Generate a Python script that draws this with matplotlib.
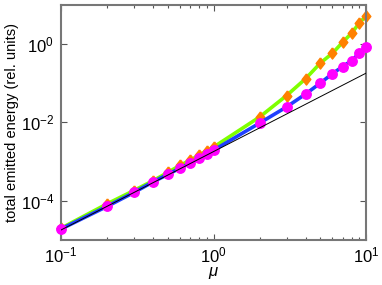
from matplotlib import pyplot as plt
from matplotlib.ticker import LogLocator, NullLocator
import numpy as np

plt.rcParams['font.family'] = ['Liberation Sans', 'DejaVu Sans']
plt.rcParams['mathtext.fontset'] = 'custom'
plt.rcParams['mathtext.it'] = 'Liberation Sans:italic'
plt.rcParams['mathtext.rm'] = 'Liberation Sans'

mu = [0.1, 0.2, 0.3, 0.4, 0.5, 0.6, 0.7, 0.8, 0.9, 1.0, 2, 3, 4, 5, 6, 7, 8, 9, 10]
# log10 of energy
log_circle = [-4.72, -4.145, -3.79, -3.52, -3.33, -3.17, -3.04, -2.92, -2.815, -2.71,
              -2.02, -1.61, -1.28, -1.0, -0.76, -0.58, -0.43, -0.24, -0.07]
log_diamond = [-4.70, -4.08, -3.74, -3.49, -3.28, -3.10, -2.97, -2.84, -2.73, -2.63,
               -1.865, -1.32, -0.89, -0.49, -0.24, 0.04, 0.27, 0.53, 0.72]
ref_mu = [0.1, 10]
ref_energy = [1.8e-5, 0.18]

circle = 10 ** np.array(log_circle)
diamond = 10 ** np.array(log_diamond)

# slightly tall diamond, like the one in the reference
tall_diamond = [(0, 1), (0.78, 0), (0, -1), (-0.78, 0), (0, 1)]

fig = plt.figure(figsize=(3.82, 2.85), dpi=100)
ax = fig.add_axes([0.16, 0.158, 0.799, 0.826])

ax.plot(mu, diamond, '-', color='#7fff00', lw=2.6, marker=tall_diamond, ms=8,
        mfc='#ff8000', mec='#ff8000', zorder=2, clip_on=False)
ax.plot(mu, circle, '-', color='#1f3fff', lw=2.6, marker='o', ms=6.8,
        mfc='#ff00ff', mec='#ff00ff', zorder=3, clip_on=False)
ax.plot(ref_mu, ref_energy, '-', color='k', lw=0.7, zorder=4)

ax.set_xscale('log')
ax.set_yscale('log')
ax.set_xlim(0.1, 10)
ax.set_ylim(1e-5, 10)
ax.set_yticks([1e-4, 1e-2, 1e0])
ax.yaxis.set_minor_locator(NullLocator())
ax.xaxis.set_minor_locator(LogLocator(base=10, subs=np.arange(2, 10)))

ax.tick_params(which='both', direction='in', top=True, right=True, labelsize=12,
               color='#555555')
ax.tick_params(axis='x', pad=4)
ax.tick_params(axis='y', pad=5)
ax.tick_params(which='major', length=4, width=0.8)
ax.tick_params(which='minor', length=2.5, width=0.8)
for s in ax.spines.values():
    s.set_color('#777777')
    s.set_linewidth(1.5)

ax.set_xlabel(r'$\mu$', fontsize=12, labelpad=0)
ax.set_ylabel('total emitted energy (rel. units)', fontsize=10.5, labelpad=1)

fig.savefig('out.png', dpi=100)
